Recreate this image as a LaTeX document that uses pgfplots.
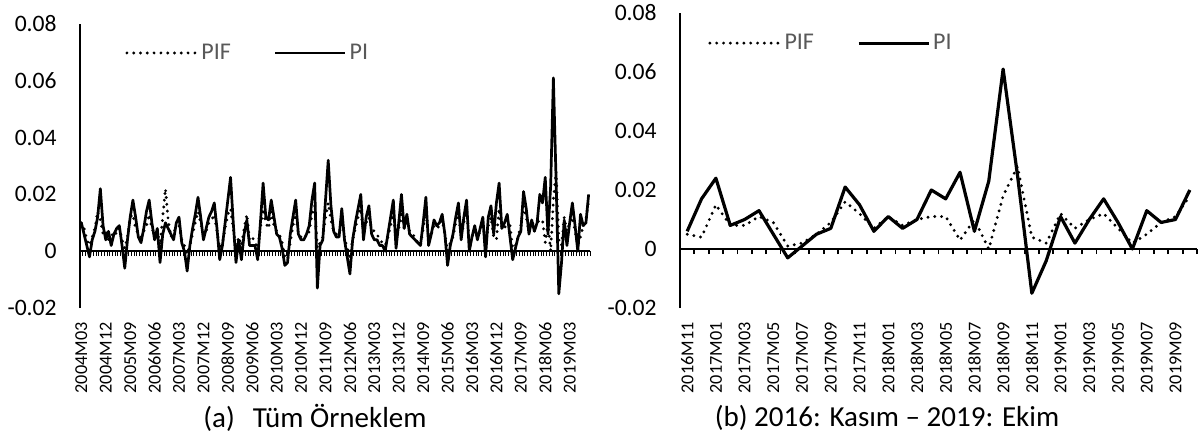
\documentclass[border=0pt]{standalone}
\usepackage{fontspec}
\setmainfont{Carlito}
\usepackage{pgfplots}
\usepackage{pgfplotstable}
\pgfplotsset{compat=1.18}

\definecolor{legendgray}{HTML}{595959}

% monthly series, t = 0 is 2004M03, t = 187 is 2019M10
\pgfplotstableread{
t pif pi
0 0.010 0.010
1 0.008 0.006
2 0.004 0.002
3 0.002 -0.002
4 0.005 0.004
5 0.008 0.007
6 0.014 0.012
7 0.011 0.022
8 0.006 0.009
9 0.007 0.004
10 0.004 0.007
11 0.005 0.002
12 0.007 0.006
13 0.006 0.008
14 0.008 0.009
15 0.004 0.002
16 0.001 -0.006
17 0.005 0.004
18 0.012 0.012
19 0.013 0.018
20 0.008 0.012
21 0.006 0.005
22 0.005 0.003
23 0.007 0.008
24 0.009 0.014
25 0.013 0.018
26 0.008 0.010
27 0.006 0.004
28 0.007 0.008
29 0.002 -0.004
30 0.012 0.006
31 0.022 0.010
32 0.011 0.008
33 0.005 0.006
34 0.007 0.004
35 0.008 0.010
36 0.009 0.012
37 0.004 0.003
38 0.002 0.000
39 -0.001 -0.007
40 0.002 0.002
41 0.006 0.008
42 0.010 0.013
43 0.014 0.019
44 0.010 0.012
45 0.006 0.004
46 0.007 0.008
47 0.010 0.012
48 0.011 0.014
49 0.013 0.017
50 0.007 0.008
51 0.001 -0.003
52 0.003 0.002
53 0.008 0.010
54 0.013 0.018
55 0.015 0.026
56 0.008 0.010
57 0.001 -0.004
58 0.005 0.004
59 0.002 -0.003
60 0.008 0.006
61 0.013 0.011
62 0.004 0.002
63 0.005 0.002
64 0.003 0.002
65 0.001 -0.003
66 0.008 0.010
67 0.015 0.024
68 0.010 0.012
69 0.008 0.011
70 0.014 0.018
71 0.009 0.012
72 0.007 0.006
73 0.006 0.005
74 0.003 0.001
75 -0.002 -0.005
76 -0.003 -0.004
77 0.003 0.006
78 0.009 0.012
79 0.013 0.018
80 0.006 0.006
81 0.005 0.004
82 0.006 0.004
83 0.005 0.006
84 0.007 0.009
85 0.013 0.018
86 0.016 0.024
87 0.001 -0.013
88 0.003 0.002
89 0.005 0.004
90 0.012 0.018
91 0.017 0.032
92 0.011 0.016
93 0.007 0.007
94 0.006 0.005
95 0.006 0.005
96 0.011 0.015
97 0.005 0.004
98 0.001 -0.002
99 -0.002 -0.008
100 0.004 0.004
101 0.008 0.010
102 0.012 0.015
103 0.015 0.020
104 0.006 0.004
105 0.010 0.012
106 0.012 0.016
107 0.008 0.006
108 0.007 0.004
109 0.006 0.004
110 0.004 0.002
111 0.003 0.002
112 0.002 0.000
113 0.005 0.006
114 0.009 0.012
115 0.014 0.018
116 0.004 0.001
117 0.008 0.010
118 0.013 0.020
119 0.008 0.008
120 0.011 0.013
121 0.007 0.006
122 0.006 0.005
123 0.005 0.004
124 0.003 0.003
125 0.002 0.002
126 0.008 0.010
127 0.015 0.019
128 0.004 0.002
129 0.006 0.006
130 0.009 0.011
131 0.008 0.009
132 0.009 0.010
133 0.011 0.013
134 0.006 0.006
135 0.000 -0.005
136 0.003 0.002
137 0.005 0.006
138 0.010 0.012
139 0.014 0.017
140 0.005 0.004
141 0.010 0.012
142 0.016 0.018
143 0.003 0.000
144 0.005 0.005
145 0.008 0.009
146 0.005 0.004
147 0.007 0.008
148 0.010 0.012
149 0.002 -0.002
150 0.009 0.012
151 0.012 0.016
152 0.005 0.006
153 0.004 0.017
154 0.015 0.024
155 0.008 0.008
156 0.008 0.010
157 0.011 0.013
158 0.009 0.005
159 0.001 -0.003
160 0.002 0.001
161 0.005 0.005
162 0.009 0.007
163 0.016 0.021
164 0.012 0.015
165 0.007 0.006
166 0.011 0.011
167 0.008 0.007
168 0.010 0.010
169 0.011 0.020
170 0.011 0.017
171 0.003 0.026
172 0.010 0.006
173 0.000 0.023
174 0.018 0.061
175 0.028 0.025
176 0.004 -0.015
177 0.002 -0.004
178 0.012 0.011
179 0.007 0.002
180 0.010 0.010
181 0.012 0.017
182 0.007 0.009
183 0.002 0.000
184 0.005 0.013
185 0.009 0.009
186 0.011 0.010
187 0.018 0.020
}\pidata

\pgfplotsset{
  panel/.style={
    scale only axis,
    ymin=-0.02, ymax=0.08,
  },
  zeroline/.style={
    panel,
    axis y line=none,
    axis x line*=middle,
    xticklabels={},
    tick align=outside,
    major tick length=2.5pt,
    x axis line style={line width=1pt},
  },
  data/.style={
    panel,
    axis x line*=bottom,
    axis y line*=left,
    x axis line style={draw=none},
    xtick style={draw=none},
    ytick style={draw=none},
    y axis line style={line width=0.9pt},
    scaled y ticks=false,
    ytick={-0.02,0,0.02,0.04,0.06,0.08},
    yticklabels={-0.02,0,0.02,0.04,0.06,0.08},
    yticklabel style={anchor=east, inner sep=0pt, font=\fontsize{11.8}{13}\selectfont},
    yticklabel shift=11.5pt,
    xticklabel style={rotate=90, anchor=east, inner sep=0pt, font=\fontsize{9.1}{10}\selectfont},
    xticklabel shift=7pt,
    legend columns=2,
    legend image code/.code={\draw[##1] (0pt,0pt) -- (35pt,0pt);},
    legend style={draw=none, fill=none, inner sep=0pt, anchor=west,
      font=\fontsize{12}{14}\selectfont, text=legendgray,
      nodes={inner sep=1.5pt},
      /tikz/every even column/.append style={column sep=20pt}},
  },
  pifline/.style={black, line width=1.6pt, line cap=round, dash pattern=on 0pt off 3.4pt},
  piline/.style={black, line width=1.6pt, line join=round},
}

\begin{document}
\begin{tikzpicture}
\useasboundingbox (0,0) rectangle (600pt,217.5pt);

% (a) full sample
\begin{axis}[zeroline, at={(40pt,63.5pt)}, anchor=south west,
  width=255pt, height=142pt, xmin=-0.5, xmax=187.5,
  xtick={-0.5,0.5,...,187.5}, xtick style={line width=0.5pt, black}]
\end{axis}
\begin{axis}[data, at={(40pt,63.5pt)}, anchor=south west,
  width=255pt, height=142pt, xmin=-0.5, xmax=187.5,
  xtick={0,9,...,180},
  xticklabels={2004M03,2004M12,2005M09,2006M06,2007M03,2007M12,2008M09,
    2009M06,2010M03,2010M12,2011M09,2012M06,2013M03,2013M12,2014M09,
    2015M06,2016M03,2016M12,2017M09,2018M06,2019M03},
  legend style={at={(rel axis cs:0.088,0.898)}}]
\addplot[pifline] table[x=t, y=pif] {\pidata};
\addlegendentry{PIF}
\addplot[piline, line width=1.35pt] table[x=t, y=pi] {\pidata};
\addlegendentry{PI}
\end{axis}

% (b) 2016M11 - 2019M10
\begin{axis}[zeroline, at={(340pt,63.5pt)}, anchor=south west,
  width=258.5pt, height=147.5pt, xmin=151.5, xmax=187.5,
  xtick={151.5,152.5,...,187.5}, xtick style={line width=0.9pt, black}]
\end{axis}
\begin{axis}[data, at={(340pt,63.5pt)}, anchor=south west,
  width=258.5pt, height=147.5pt, xmin=151.5, xmax=187.5,
  xtick={152,154,...,186},
  xticklabels={2016M11,2017M01,2017M03,2017M05,2017M07,2017M09,2017M11,
    2018M01,2018M03,2018M05,2018M07,2018M09,2018M11,2019M01,2019M03,
    2019M05,2019M07,2019M09},
  legend style={at={(rel axis cs:0.054,0.898)}}]
\addplot[pifline, restrict x to domain=152:187] table[x=t, y=pif] {\pidata};
\addlegendentry{PIF}
\addplot[piline, restrict x to domain=152:187] table[x=t, y=pi] {\pidata};
\addlegendentry{PI}
\end{axis}

\node[font=\fontsize{14.5}{17}\selectfont] at (157.5pt,8.5pt) {(a)\hspace{9pt}Tüm Örneklem};
\node[font=\fontsize{14.5}{17}\selectfont] at (443.5pt,8.5pt) {(b) 2016: Kasım – 2019: Ekim};
\end{tikzpicture}
\end{document}
